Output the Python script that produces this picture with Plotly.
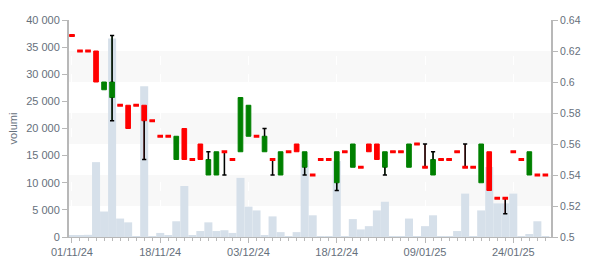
import plotly.graph_objects as go

dates = [
    "2024-11-01", "2024-11-04", "2024-11-05", "2024-11-06", "2024-11-07", "2024-11-08",
    "2024-11-11", "2024-11-12", "2024-11-13", "2024-11-14", "2024-11-15",
    "2024-11-18", "2024-11-19", "2024-11-20", "2024-11-21", "2024-11-22",
    "2024-11-25", "2024-11-26", "2024-11-27", "2024-11-28", "2024-11-29",
    "2024-12-02", "2024-12-03", "2024-12-04", "2024-12-05", "2024-12-06",
    "2024-12-09", "2024-12-10", "2024-12-11", "2024-12-12", "2024-12-13",
    "2024-12-16", "2024-12-17", "2024-12-18", "2024-12-19", "2024-12-20",
    "2024-12-23", "2024-12-27", "2024-12-30", "2025-01-02", "2025-01-03",
    "2025-01-06", "2025-01-07", "2025-01-08", "2025-01-09", "2025-01-10",
    "2025-01-13", "2025-01-14", "2025-01-15", "2025-01-16", "2025-01-17",
    "2025-01-20", "2025-01-21", "2025-01-22", "2025-01-23", "2025-01-24",
    "2025-01-27", "2025-01-28", "2025-01-29", "2025-01-30",
]
opens = [0.63, 0.62, 0.62, 0.62, 0.595, 0.59, 0.585, 0.585, 0.585, 0.585, 0.575,
         0.565, 0.565, 0.55, 0.57, 0.55, 0.56, 0.54, 0.54, 0.555, 0.55,
         0.555, 0.565, 0.565, 0.555, 0.55, 0.54, 0.555, 0.56, 0.545, 0.54,
         0.55, 0.55, 0.535, 0.555, 0.545, 0.545, 0.56, 0.56, 0.545, 0.555,
         0.555, 0.545, 0.56, 0.545, 0.54, 0.55, 0.55, 0.555, 0.545, 0.545,
         0.535, 0.555, 0.525, 0.525, 0.555, 0.55, 0.54, 0.54, 0.54]
closes = [0.63, 0.62, 0.62, 0.60, 0.60, 0.60, 0.585, 0.57, 0.585, 0.575, 0.575,
          0.565, 0.565, 0.565, 0.55, 0.55, 0.55, 0.55, 0.555, 0.555, 0.55,
          0.59, 0.585, 0.565, 0.565, 0.55, 0.555, 0.555, 0.555, 0.555, 0.54,
          0.55, 0.55, 0.555, 0.555, 0.56, 0.545, 0.555, 0.55, 0.555, 0.555,
          0.555, 0.56, 0.56, 0.545, 0.55, 0.55, 0.55, 0.555, 0.545, 0.545,
          0.56, 0.53, 0.525, 0.525, 0.555, 0.55, 0.555, 0.54, 0.54]
highs = [0.63, 0.62, 0.62, 0.62, 0.60, 0.63, 0.585, 0.585, 0.585, 0.585, 0.575,
         0.565, 0.565, 0.565, 0.57, 0.55, 0.56, 0.555, 0.555, 0.555, 0.55,
         0.59, 0.585, 0.565, 0.57, 0.55, 0.555, 0.555, 0.56, 0.555, 0.54,
         0.55, 0.55, 0.555, 0.555, 0.56, 0.545, 0.56, 0.56, 0.555, 0.555,
         0.555, 0.56, 0.56, 0.56, 0.555, 0.55, 0.55, 0.555, 0.56, 0.545,
         0.56, 0.555, 0.525, 0.525, 0.555, 0.55, 0.555, 0.54, 0.54]
lows = [0.63, 0.62, 0.62, 0.60, 0.595, 0.575, 0.585, 0.57, 0.585, 0.55, 0.575,
        0.565, 0.565, 0.55, 0.55, 0.55, 0.55, 0.54, 0.54, 0.54, 0.55,
        0.555, 0.565, 0.565, 0.555, 0.54, 0.54, 0.555, 0.555, 0.54, 0.54,
        0.55, 0.55, 0.53, 0.555, 0.545, 0.545, 0.555, 0.55, 0.54, 0.555,
        0.555, 0.545, 0.56, 0.545, 0.54, 0.55, 0.55, 0.555, 0.545, 0.545,
        0.535, 0.53, 0.525, 0.515, 0.555, 0.55, 0.54, 0.54, 0.54]
volumes = [200, 250, 400, 13800, 4700, 36600, 3400, 2700, 100, 27800, 150,
           750, 200, 2900, 9400, 200, 1100, 2700, 1100, 1250, 750,
           10900, 5600, 4900, 350, 3800, 900, 150, 900, 14200, 4000,
           100, 100, 14000, 100, 3300, 1400, 2000, 4900, 6500, 100,
           100, 3400, 100, 2000, 4000, 100, 100, 1100, 8000, 100,
           4900, 12900, 6200, 6200, 8000, 100, 550, 2900, 100]

tick_dates = ["2024-11-01", "2024-11-18", "2024-12-03", "2024-12-18", "2025-01-09", "2025-01-24"]
tick_labels = ["01/11/24", "18/11/24", "03/12/24", "18/12/24", "09/01/25", "24/01/25"]
vol_ticks = [0, 5000, 10000, 15000, 20000, 25000, 30000, 35000, 40000]
price_ticks = [0.50, 0.52, 0.54, 0.56, 0.58, 0.60, 0.62, 0.64]

GREEN = "#008000"
RED = "#ff0000"
VOLC = "#d6e0ea"
TXT = "#66707c"
AXC = "#b8b8b8"

xpos = list(range(len(dates)))
tickpos = [dates.index(d) for d in tick_dates]

fig = go.Figure()

fig.add_trace(go.Bar(
    x=xpos, y=volumes, yaxis="y", marker=dict(color=VOLC, line=dict(width=0)),
    width=1.0, hoverinfo="skip", showlegend=False,
))

fig.add_trace(go.Candlestick(
    x=xpos, open=opens, high=highs, low=lows, close=closes, yaxis="y2",
    increasing=dict(fillcolor=GREEN, line=dict(color=GREEN, width=1)),
    decreasing=dict(fillcolor=RED, line=dict(color=RED, width=1)),
    whiskerwidth=0, showlegend=False,
))

# black wicks
wx, wy, cx, cy = [], [], [], []
for i in xpos:
    top = max(opens[i], closes[i])
    bot = min(opens[i], closes[i])
    if highs[i] > top:
        wx += [i, i, None]
        wy += [highs[i], top, None]
        cx.append(i)
        cy.append(highs[i])
    if lows[i] < bot:
        wx += [i, i, None]
        wy += [bot, lows[i], None]
        cx.append(i)
        cy.append(lows[i])
fig.add_trace(go.Scatter(
    x=wx, y=wy, yaxis="y2", mode="lines", line=dict(color="black", width=1.5),
    hoverinfo="skip", showlegend=False,
))
fig.add_trace(go.Scatter(
    x=cx, y=cy, yaxis="y2", mode="markers",
    marker=dict(symbol="line-ew", size=3, line=dict(color="black", width=1.5)),
    hoverinfo="skip", showlegend=False,
))

# doji marks
dx = [i for i in xpos if opens[i] == closes[i]]
dy = [closes[i] for i in dx]
fig.add_trace(go.Scatter(
    x=dx, y=dy, yaxis="y2", mode="markers",
    marker=dict(symbol="line-ew", size=4, line=dict(color=RED, width=3)),
    hoverinfo="skip", showlegend=False,
))

shapes = []
for k in range(1, len(price_ticks) - 1, 2):
    shapes.append(dict(type="rect", xref="paper", yref="y2", x0=0, x1=1,
                       y0=price_ticks[k], y1=price_ticks[k + 1],
                       fillcolor="#f8f8f8", line=dict(width=0), layer="below"))

fig.update_layout(
    width=600, height=270,
    margin=dict(l=61, r=49, t=20, b=30),
    paper_bgcolor="white", plot_bgcolor="white",
    separators=". ",
    boxgap=0.42, boxgroupgap=0,
    barmode="overlay",
    font=dict(family="Liberation Sans, Arial, sans-serif", size=11, color=TXT),
    shapes=shapes,
    xaxis=dict(
        range=[-0.37, len(dates) - 0.3],
        tickmode="array", tickvals=tickpos, ticktext=tick_labels,
        ticks="outside", ticklen=5, tickcolor=AXC, tickwidth=1,
        showline=True, linecolor=AXC, linewidth=1,
        showgrid=True, gridcolor="#ffffff", griddash="dash", gridwidth=1,
        zeroline=False, rangeslider=dict(visible=False),
        minor=dict(dtick=1, tick0=0, ticks="outside", ticklen=3, tickcolor=AXC, showgrid=False),
        tickfont=dict(size=11, color=TXT),
    ),
    yaxis=dict(
        range=[0, 40000], tickmode="array", tickvals=vol_ticks, tickformat=",d",
        ticks="outside", ticklen=5, tickcolor=AXC, tickwidth=1,
        showline=True, linecolor=AXC, linewidth=2,
        showgrid=False, zeroline=False, separatethousands=True,
        title=dict(text="volumi", font=dict(size=11, color=TXT), standoff=6),
        tickfont=dict(size=11, color=TXT),
    ),
    yaxis2=dict(
        range=[0.5, 0.64], tickmode="array", tickvals=price_ticks,
        overlaying="y", side="right",
        ticks="outside", ticklen=5, tickcolor=AXC, tickwidth=1,
        showline=True, linecolor=AXC, linewidth=2,
        showgrid=False, zeroline=False,
        tickfont=dict(size=10.5, color=TXT),
    ),
)

fig.write_html("out.html")
